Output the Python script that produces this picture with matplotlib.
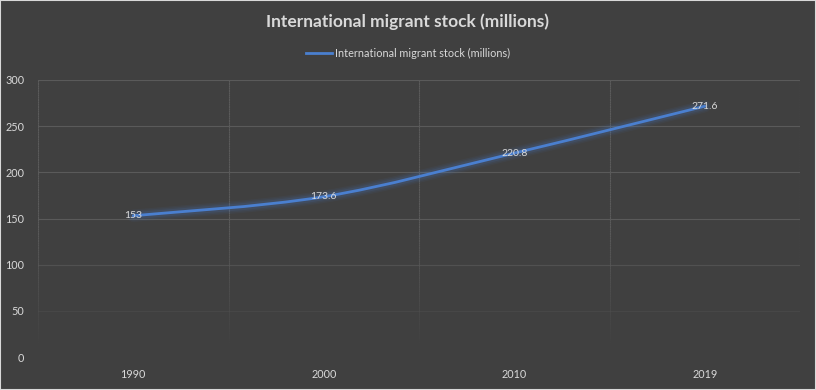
import numpy as np
import matplotlib.pyplot as plt
from matplotlib.path import Path
from matplotlib.patches import PathPatch, Rectangle
from matplotlib.collections import LineCollection
from matplotlib.colors import to_rgb

years = ['1990', '2000', '2010', '2019']
stock = [153, 173.6, 220.8, 271.6]
labels = ['153', '173.6', '220.8', '271.6']
title = 'International migrant stock (millions)'

bg = '#404040'
grid = '#5a5a5a'
txt = '#d9d9d9'
blue = '#4a7fcf'

plt.rcParams['font.family'] = ['Lato', 'DejaVu Sans']

fig = plt.figure(figsize=(8.16, 3.9), dpi=100, facecolor=bg)
ax = fig.add_axes([38 / 816, 1 - 357 / 390, 762 / 816, 277 / 390])
ax.set_facecolor(bg)

x = np.arange(len(years))
y = np.array(stock)


def fade(v):
    # gridlines fade out toward the bottom of the plot area
    return float(np.clip((v - 10) / 130, 0, 1))


# gridlines with gradient
gc = to_rgb(grid)
for v in range(50, 301, 50):
    ax.axhline(v, color=gc + (fade(v),), lw=0.8, zorder=1)
ys = np.linspace(0, 300, 121)
for xv in np.arange(-0.5, 3.6, 1):
    segs = [[(xv, ys[i]), (xv, ys[i + 1])] for i in range(len(ys) - 1)]
    cols = [gc + (fade((ys[i] + ys[i + 1]) / 2),) for i in range(len(ys) - 1)]
    ax.add_collection(LineCollection(segs, colors=cols, lw=0.8, zorder=1))

# smoothed line like Excel: bezier segments with catmull-rom control points
verts = [(x[0], y[0])]
codes = [Path.MOVETO]
n = len(x)
for i in range(n - 1):
    p0 = np.array([x[max(i - 1, 0)], y[max(i - 1, 0)]])
    p1 = np.array([x[i], y[i]])
    p2 = np.array([x[i + 1], y[i + 1]])
    p3 = np.array([x[min(i + 2, n - 1)], y[min(i + 2, n - 1)]])
    c1 = p1 + (p2 - p0) / 6
    c2 = p2 - (p3 - p1) / 6
    verts += [tuple(c1), tuple(c2), tuple(p2)]
    codes += [Path.CURVE4] * 3
path = Path(verts, codes)

for lw, a in [(9, 0.06), (7, 0.08), (5, 0.12)]:
    ax.add_patch(PathPatch(path, facecolor='none', edgecolor=blue, lw=lw, alpha=a,
                           capstyle='round', joinstyle='round', zorder=2))
ax.add_patch(PathPatch(path, facecolor='none', edgecolor=blue, lw=2,
                       capstyle='round', zorder=3))
ax.plot([], [], color=blue, lw=2, label=title)

for xi, yi, lab in zip(x, y, labels):
    ax.text(xi, yi, lab, color=txt, fontsize=7.5, ha='center', va='center', zorder=4)

ax.set_xlim(-0.5, 3.5)
ax.set_ylim(0, 300)
ax.set_yticks(range(0, 301, 50))
ax.set_xticks(x)
ax.set_xticklabels(years)
ax.tick_params(which='both', length=0, colors=txt, labelsize=7.8)
ax.tick_params(axis='y', pad=10)
ax.tick_params(axis='x', pad=9)
for s in ax.spines.values():
    s.set_visible(False)

fig.text(0.5, 1 - 22 / 390, title, color=txt, fontsize=12.5, fontweight='bold',
         ha='center', va='center')
fig.legend(loc='center', bbox_to_anchor=(0.5, 1 - 53 / 390), frameon=False,
           labelcolor=txt, fontsize=7.8, handlelength=2.4, handletextpad=0.2)

fig.add_artist(Rectangle((0, 0), 1, 1, transform=fig.transFigure, facecolor='none',
                         edgecolor='#d9d9d9', lw=1.5))

fig.savefig('out.png', dpi=100, facecolor=bg)
